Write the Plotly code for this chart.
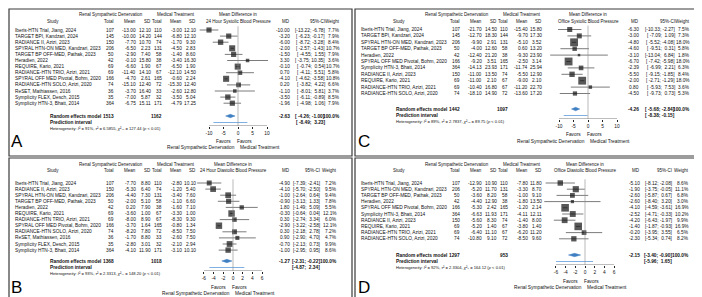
import math
import plotly.graph_objects as go

W, H = 702, 297
FONT = "Liberation Sans"
NB = "\u00a0"

# ================= Panel A: 24-hour systolic blood pressure =================
A_study = ["Iberis-HTN Trial, Jiang, 2024", "TARGET BPI, Kandzari, 2024", "RADIANCE II, Azizi, 2023",
           "SPYRAL HTN-ON MED, Kandzari, 2023", "TARGET BP OFF-MED, Pathak, 2023", "Heradien, 2022",
           "REQUIRE, Kario, 2021", "RADIANCE-HTN TRIO, Azizi, 2021", "SPYRAL OFF MED Pivotal, Bohm, 2020",
           "RADIANCE-HTN SOLO, Azizi, 2020", "ReSET, Mathiassen, 2016", "Symplicity FLEX, Desch, 2015",
           "Symplicity HTN-3, Bhatt, 2014"]
A_n1 = [107, 145, 150, 206, 50, 42, 69, 69, 166, 74, 36, 35, 364]
A_m1 = [-13.00, -10.00, -7.70, -6.50, -2.90, -0.10, -6.60, -11.40, -4.70, -15.10, -3.70, -7.00, -6.75]
A_s1 = [12.10, 14.20, 10.70, 2.23, 7.40, 15.80, 1.90, 14.10, 2.61, 12.40, 16.40, 5.87, 15.11]
A_n2 = [110, 144, 74, 131, 58, 38, 67, 67, 165, 72, 33, 32, 171]
A_m2 = [-3.00, -6.80, -1.70, -4.50, -1.40, -3.40, -6.50, -12.10, -0.60, -15.30, -2.60, -3.50, -4.79]
A_s2 = [12.10, 12.10, 9.30, 2.83, 8.60, 16.30, 1.90, 14.50, 2.24, 12.40, 12.80, 5.04, 17.25]
A_md = [-10.00, -3.20, -6.00, -2.00, -1.50, 3.30, -0.10, 0.70, -4.10, 0.20, -1.10, -3.50, -1.96]
A_lo = [-13.22, -6.23, -8.72, -2.57, -4.55, -3.75, -0.74, -4.11, -4.62, -3.82, -8.01, -6.11, -4.98]
A_hi = [-6.78, -0.17, -3.28, -1.43, 1.55, 10.35, 0.54, 5.51, -3.58, 4.22, 5.81, -0.89, 1.06]
A_w = [7.7, 7.9, 8.4, 10.7, 7.9, 3.6, 10.7, 5.8, 10.8, 6.6, 3.7, 8.5, 7.9]
A_random = [-2.63, -4.26, -1.00]
A_pred = [-8.49, 3.23]
A_het = ["91%", "6.5855", "₁₂", "127.44"]
A_ticks = [-10, -5, 0, 5, 10]
A_outcome = "24 Hour Systolic Blood Pressure"

# ================= Panel B: 24-hour diastolic blood pressure =================
B_study = ["Iberis-HTN Trial, Jiang, 2024", "RADIANCE II, Azizi, 2023", "SPYRAL HTN-ON MED, Kandzari, 2023",
           "TARGET BP OFF-MED, Pathak, 2023", "Heradien, 2022", "REQUIRE, Kario, 2021",
           "RADIANCE-HTN TRIO, Azizi, 2021", "SPYRAL OFF MED Pivotal, Bohm, 2020", "RADIANCE-HTN SOLO, Azizi, 2020",
           "ReSET, Mathiassen, 2016", "Symplicity FLEX, Desch, 2015", "Symplicity HTN-3, Bhatt, 2014"]
B_n1 = [107, 150, 206, 50, 42, 69, 69, 166, 74, 36, 35, 364]
B_m1 = [-7.70, -5.30, -4.40, -2.00, 0.20, -3.60, -8.00, -3.70, -8.20, -1.70, -2.80, -4.10]
B_s1 = [8.80, 6.40, 7.30, 5.10, 7.90, 1.00, 8.90, 1.64, 7.80, 8.80, 3.01, 11.90]
B_n2 = [110, 74, 131, 58, 38, 67, 67, 165, 72, 33, 32, 171]
B_m2 = [-2.80, -1.20, -3.40, -1.10, -1.60, -3.30, -8.30, -0.80, -8.50, -2.60, -2.10, -3.10]
B_s2 = [10.10, 5.40, 7.60, 6.60, 7.10, 1.00, 9.30, 1.34, 7.50, 7.50, 2.94, 10.10]
B_md = [-4.90, -4.10, -1.00, -0.90, 1.80, -0.30, 0.30, -2.90, 0.30, 0.90, -0.70, -1.00]
B_lo = [-7.39, -5.70, -2.64, -3.13, -1.49, -0.64, -2.74, -3.22, -2.18, -2.90, -2.13, -2.95]
B_hi = [-2.41, -2.50, 0.64, 1.33, 5.09, 0.04, 3.34, -2.58, 2.78, 4.70, 0.73, 0.95]
B_w = [7.2, 9.5, 9.4, 7.8, 5.5, 12.1, 6.0, 12.1, 7.2, 4.7, 9.9, 8.6]
B_random = [-1.27, -2.31, -0.22]
B_pred = [-4.87, 2.34]
B_het = ["93%", "2.3313", "₁₁", "148.20"]
B_ticks = [-6, -4, -2, 0, 2, 4, 6]
B_outcome = "24 Hour Diastolic Blood Pressure"

# ================= Panel C: office systolic blood pressure =================
C_study = ["Iberis-HTN Trial, Jiang, 2024", "TARGET BPI, Kandzari, 2024", "SPYRAL HTN-ON MED, Kandzari, 2023",
           "TARGET BP OFF-MED, Pathak, 2023", "Heradien, 2022", "SPYRAL OFF MED Pivotal, Bohm, 2020",
           "Symplicity HTN-3, Bhatt, 2014", "RADIANCE II, Azizi, 2023", "REQUIRE, Kario, 2021",
           "RADIANCE-HTN TRIO, Azizi, 2021", "RADIANCE-HTN SOLO, Azizi, 2020"]
C_n1 = [107, 145, 206, 50, 42, 166, 364, 150, 69, 69, 74]
C_m1 = [-21.70, -12.70, -9.90, -4.00, -12.40, -9.20, -14.13, -11.00, -11.00, -10.40, -18.10]
C_s1 = [14.50, 18.30, 2.91, 12.60, 21.20, 3.51, 23.93, 13.50, 2.10, 16.80, 14.90]
C_n2 = [110, 144, 131, 58, 38, 165, 171, 74, 67, 67, 72]
C_m2 = [-15.40, -9.70, -5.10, 0.60, -9.30, -2.50, -11.74, -5.50, -9.00, -11.20, -13.60]
C_s2 = [15.80, 17.30, 3.52, 13.20, 23.90, 3.14, 25.94, 12.90, 2.10, 22.70, 17.20]
C_md = [-6.30, -3.00, -4.80, -4.60, -3.10, -6.70, -2.39, -5.50, -2.00, 0.80, -4.50]
C_lo = [-10.33, -7.09, -5.52, -9.51, -13.04, -7.42, -6.99, -9.15, -2.71, -5.93, -9.73]
C_hi = [-2.27, 1.09, -4.08, 0.31, 6.84, -5.98, 2.21, -1.85, -1.29, 7.53, 0.73]
C_w = [7.5, 7.3, 18.0, 5.8, 1.8, 18.0, 6.3, 8.4, 18.0, 3.6, 5.3]
C_random = [-4.26, -5.68, -2.84]
C_pred = [-8.38, -0.15]
C_het = ["89%", "2.7837", "₁₀", "89.75"]
C_ticks = [-10, -5, 0, 5, 10]
C_outcome = "Office Systolic Blood Pressure"

# ================= Panel D: office diastolic blood pressure =================
D_study = ["Iberis-HTN Trial, Jiang, 2024", "SPYRAL HTN-ON MED, Kandzari, 2023", "TARGET BP OFF-MED, Pathak, 2023",
           "Heradien, 2022", "SPYRAL OFF MED Pivotal, Bohm, 2020", "Symplicity HTN-3, Bhatt, 2014",
           "RADIANCE II, Azizi, 2023", "REQUIRE, Kario, 2021", "RADIANCE-HTN TRIO, Azizi, 2021",
           "RADIANCE-HTN SOLO, Azizi, 2020"]
D_n1 = [107, 206, 50, 42, 166, 364, 150, 69, 69, 74]
D_m1 = [-12.90, -5.20, -3.60, -4.40, -5.30, -6.63, -5.60, -5.20, -6.40, -10.80]
D_s1 = [10.90, 11.70, 8.20, 12.90, 2.42, 11.93, 8.30, 1.40, 11.10, 9.10]
D_n2 = [110, 131, 58, 38, 165, 171, 74, 67, 67, 72]
D_m2 = [-7.80, -3.30, -1.00, -1.80, -1.20, -4.11, -1.40, -3.80, -6.20, -8.50]
D_s2 = [11.80, 8.70, 9.10, 13.50, 2.14, 12.11, 8.00, 1.40, 11.20, 9.60]
D_md = [-5.10, -1.90, -2.60, -2.60, -4.10, -2.52, -4.20, -1.40, -0.20, -2.30]
D_lo = [-8.12, -3.75, -5.87, -8.40, -4.59, -4.71, -6.43, -1.87, -3.95, -5.34]
D_hi = [-2.08, -0.05, 0.67, 3.20, -3.61, -0.33, -1.97, -0.93, 3.55, 0.74]
D_w = [8.6, 11.1, 6.8, 3.0, 16.9, 10.2, 9.9, 16.9, 6.5, 8.2]
D_random = [-2.15, -3.40, -0.90]
D_pred = [-5.96, 1.65]
D_het = ["92%", "2.3304", "₉", "164.12"]
D_ticks = [-6, -4, -2, 0, 2, 4, 6]
D_outcome = "Office Diastolic Blood Pressure"

GROUP_E = "Renal Sympathetic Denervation"
GROUP_C = "Medical Treatment"

# ================= layout (pixel geometry of each panel) =================
LAY = {
    "A": dict(ox=0, frame=(1, 1, 344, 148), ref=230, scale=2.9, dom=(-16, 14),
              hdr1=6.5, hdr2=13, row0=22, step=6.1, rand=108, pred=114.5,
              axis=118, het=120.5, fav=133.5, foot=139.5, letter=(3, 133),
              md=282, ci=316.5, wt=332),
    "B": dict(ox=0, frame=(1, 150, 344, 296), ref=225, scale=4.85, dom=(-9.5, 9.5),
              hdr1=156.5, hdr2=162.5, row0=175, step=6.1, rand=253, pred=259.5,
              axis=263, het=265.5, fav=279, foot=285, letter=(3, 279.5),
              md=282, ci=312, wt=329),
    "C": dict(ox=346, frame=(347, 1, 701, 148), ref=580, scale=2.9, dom=(-16, 14),
              hdr1=6.5, hdr2=13, row0=21.5, step=6.4, rand=101, pred=107.5,
              axis=111, het=113.5, fav=127, foot=133, letter=(350, 133),
              md=631, ci=667, wt=682),
    "D": dict(ox=346, frame=(347, 150, 701, 296), ref=577, scale=4.85, dom=(-9.5, 9.5),
              hdr1=156.5, hdr2=162.5, row0=175, step=6.2, rand=247, pred=253.5,
              axis=257, het=259.5, fav=273, foot=279, letter=(350, 279.5),
              md=632, ci=664, wt=681),
}
COL = dict(name=7, study=45, grpE=103, grpC=168, t1=106, m1=128, s1=143, t2=154, m2=173.5, s2=188, summ=42)

BODY = 4.8
HEAD = 4.5
HETS = 4.1

fig = go.Figure()
ann = []
shapes = []


def px_x(p):
    return p / W


def px_y(p):
    return 1 - p / H


def T(x, y, s, anchor="left", size=BODY, yref="paper", color="#111"):
    ann.append(dict(x=px_x(x), xref="paper", y=(px_y(y) if yref == "paper" else y), yref=yref,
                    text=s, showarrow=False, xanchor=anchor, yanchor="middle",
                    borderpad=0, borderwidth=0,
                    font=dict(family=FONT, size=size, color=color)))


def ci_strings(lo, hi):
    los = [f"{v:.2f}" for v in lo]
    his = [f"{v:.2f}" for v in hi]
    wl = max(len(s) for s in los)
    wh = max(len(s) for s in his)
    return ["[" + NB * (wl - len(a)) + a + ";" + NB + NB * (wh - len(b)) + b + "]" for a, b in zip(los, his)]


def panel(k, key, study, n1, m1, s1, n2, m2, s2, md, lo, hi, w, rnd, prd, het, ticks, outcome, letter):
    L = LAY[key]
    ox = L["ox"]
    xa, ya = f"x{k}", f"y{k}"
    row0, step = L["row0"], L["step"]
    v_axis = (L["axis"] - row0) / step
    v_rand = (L["rand"] - row0) / step
    v_pred = (L["pred"] - row0) / step
    top_px = row0 - step

    d0, d1 = L["dom"]
    fig.layout[f"xaxis{k}"] = dict(
        domain=[px_x(L["ref"] + d0 * L["scale"]), px_x(L["ref"] + d1 * L["scale"])],
        range=[d0, d1], anchor=ya, showgrid=False, zeroline=False, showline=False,
        ticks="outside", ticklen=1.8, tickwidth=0.6, tickcolor="#222",
        tickvals=ticks, ticktext=[str(t) for t in ticks],
        tickfont=dict(family=FONT, size=BODY, color="#111"), fixedrange=True)
    fig.layout[f"yaxis{k}"] = dict(
        domain=[px_y(L["axis"]), px_y(top_px)], range=[v_axis, -1], anchor=xa,
        visible=False, fixedrange=True)

    fx0, fy0, fx1, fy1 = L["frame"]
    shapes.append(dict(type="rect", xref="paper", yref="paper", x0=px_x(fx0), x1=px_x(fx1),
                       y0=px_y(fy1), y1=px_y(fy0), line=dict(color="#3a3a3a", width=1.2)))
    shapes.append(dict(type="line", xref=xa, yref=ya, x0=ticks[0], x1=ticks[-1], y0=v_axis, y1=v_axis,
                       line=dict(color="#222", width=0.6)))
    shapes.append(dict(type="line", xref=xa, yref=ya, x0=0, x1=0, y0=-0.6, y1=v_axis,
                       line=dict(color="#8a8a8a", width=0.6)))

    n = len(study)
    rows = list(range(n))
    cx, cy = [], []
    for i in rows:
        cx += [lo[i], hi[i], None]
        cy += [i, i, None]
    fig.add_trace(go.Scatter(x=cx, y=cy, mode="lines", line=dict(color="#444", width=0.7),
                             xaxis=xa, yaxis=ya, hoverinfo="skip", cliponaxis=False, showlegend=False))
    fig.add_trace(go.Scatter(x=md, y=rows, mode="markers",
                             marker=dict(symbol="square", color="#111", size=[1.85 * math.sqrt(v) for v in w],
                                         line=dict(width=0)),
                             xaxis=xa, yaxis=ya, hoverinfo="skip", cliponaxis=False, showlegend=False))
    hgt = 0.27
    fig.add_trace(go.Scatter(x=[rnd[1], rnd[0], rnd[2], rnd[0], rnd[1]],
                             y=[v_rand, v_rand - hgt, v_rand, v_rand + hgt, v_rand],
                             mode="lines", fill="toself", fillcolor="#3f7fc2",
                             line=dict(color="#3f7fc2", width=0.5),
                             xaxis=xa, yaxis=ya, hoverinfo="skip", cliponaxis=False, showlegend=False))
    fig.add_trace(go.Scatter(x=[prd[0], prd[1]], y=[v_pred, v_pred], mode="lines",
                             line=dict(color="#7fb0e3", width=1.2),
                             xaxis=xa, yaxis=ya, hoverinfo="skip", cliponaxis=False, showlegend=False))

    c = {kk: vv + ox for kk, vv in COL.items()}
    T(c["grpE"], L["hdr1"], GROUP_E, "center", HEAD)
    T(c["grpC"], L["hdr1"], GROUP_C, "center", HEAD)
    T(L["ref"], L["hdr1"], "Mean Difference in", "center", HEAD)
    T(c["study"], L["hdr2"], "Study", "center", HEAD)
    for col, lab in (("t1", "Total"), ("m1", "Mean"), ("s1", "SD"), ("t2", "Total"), ("m2", "Mean"), ("s2", "SD")):
        T(c[col], L["hdr2"], lab, "right", HEAD)
    T(L["ref"], L["hdr2"], outcome, "center", HEAD)
    T(L["md"], L["hdr2"], "MD", "right", HEAD)
    T(L["ci"], L["hdr2"], "95%-CI", "right", HEAD)
    T(L["wt"], L["hdr2"], "Weight", "right", HEAD)

    cis = ci_strings(list(lo) + [rnd[1], prd[0]], list(hi) + [rnd[2], prd[1]])
    for i in rows:
        T(c["name"], i, study[i], "left", BODY, ya)
        T(c["t1"], i, str(n1[i]), "right", BODY, ya)
        T(c["m1"], i, f"{m1[i]:.2f}", "right", BODY, ya)
        T(c["s1"], i, f"{s1[i]:.2f}", "right", BODY, ya)
        T(c["t2"], i, str(n2[i]), "right", BODY, ya)
        T(c["m2"], i, f"{m2[i]:.2f}", "right", BODY, ya)
        T(c["s2"], i, f"{s2[i]:.2f}", "right", BODY, ya)
        T(L["md"], i, f"{md[i]:.2f}", "right", BODY, ya)
        T(L["ci"], i, cis[i], "right", BODY, ya)
        T(L["wt"], i, f"{w[i]:.1f}%", "right", BODY, ya)

    T(c["summ"], v_rand, "<b>Random effects model</b>", "left", BODY, ya)
    T(c["t1"], v_rand, f"<b>{sum(n1)}</b>", "right", BODY, ya)
    T(c["t2"], v_rand, f"<b>{sum(n2)}</b>", "right", BODY, ya)
    T(L["md"], v_rand, f"<b>{rnd[0]:.2f}</b>", "right", BODY, ya)
    T(L["ci"], v_rand, f"<b>{cis[n]}</b>", "right", BODY, ya)
    T(L["wt"], v_rand, "<b>100.0%</b>", "right", BODY, ya)
    T(c["summ"], v_pred, "<b>Prediction interval</b>", "left", BODY, ya)
    T(L["ci"], v_pred, f"<b>{cis[n + 1]}</b>", "right", BODY, ya)
    T(c["summ"], L["het"],
      f"Heterogeneity: <i>I</i>² = {het[0]}, <i>τ</i>² = {het[1]}, "
      f"<i>χ</i>²{het[2]} = {het[3]} (<i>p</i> &lt; 0.01)", "left", HETS)

    T(L["ref"] - 7, L["fav"], "Favors", "right", BODY)
    T(L["ref"] - 1, L["fav"], "Favors", "left", BODY)
    T(L["ref"] - 3, L["foot"], GROUP_E, "right", BODY)
    T(L["ref"] + 2, L["foot"], GROUP_C, "left", BODY)

    lx, ly = L["letter"]
    T(lx, ly, letter, "left", 17, color="#000")


panel(1, "A", A_study, A_n1, A_m1, A_s1, A_n2, A_m2, A_s2, A_md, A_lo, A_hi, A_w,
      A_random, A_pred, A_het, A_ticks, A_outcome, "A")
panel(2, "B", B_study, B_n1, B_m1, B_s1, B_n2, B_m2, B_s2, B_md, B_lo, B_hi, B_w,
      B_random, B_pred, B_het, B_ticks, B_outcome, "B")
panel(3, "C", C_study, C_n1, C_m1, C_s1, C_n2, C_m2, C_s2, C_md, C_lo, C_hi, C_w,
      C_random, C_pred, C_het, C_ticks, C_outcome, "C")
panel(4, "D", D_study, D_n1, D_m1, D_s1, D_n2, D_m2, D_s2, D_md, D_lo, D_hi, D_w,
      D_random, D_pred, D_het, D_ticks, D_outcome, "D")

fig.update_layout(width=W, height=H, margin=dict(l=0, r=0, t=0, b=0),
                  paper_bgcolor="white", plot_bgcolor="white", showlegend=False,
                  annotations=ann, shapes=shapes)
fig.write_html("out.html", config={"displayModeBar": False})
